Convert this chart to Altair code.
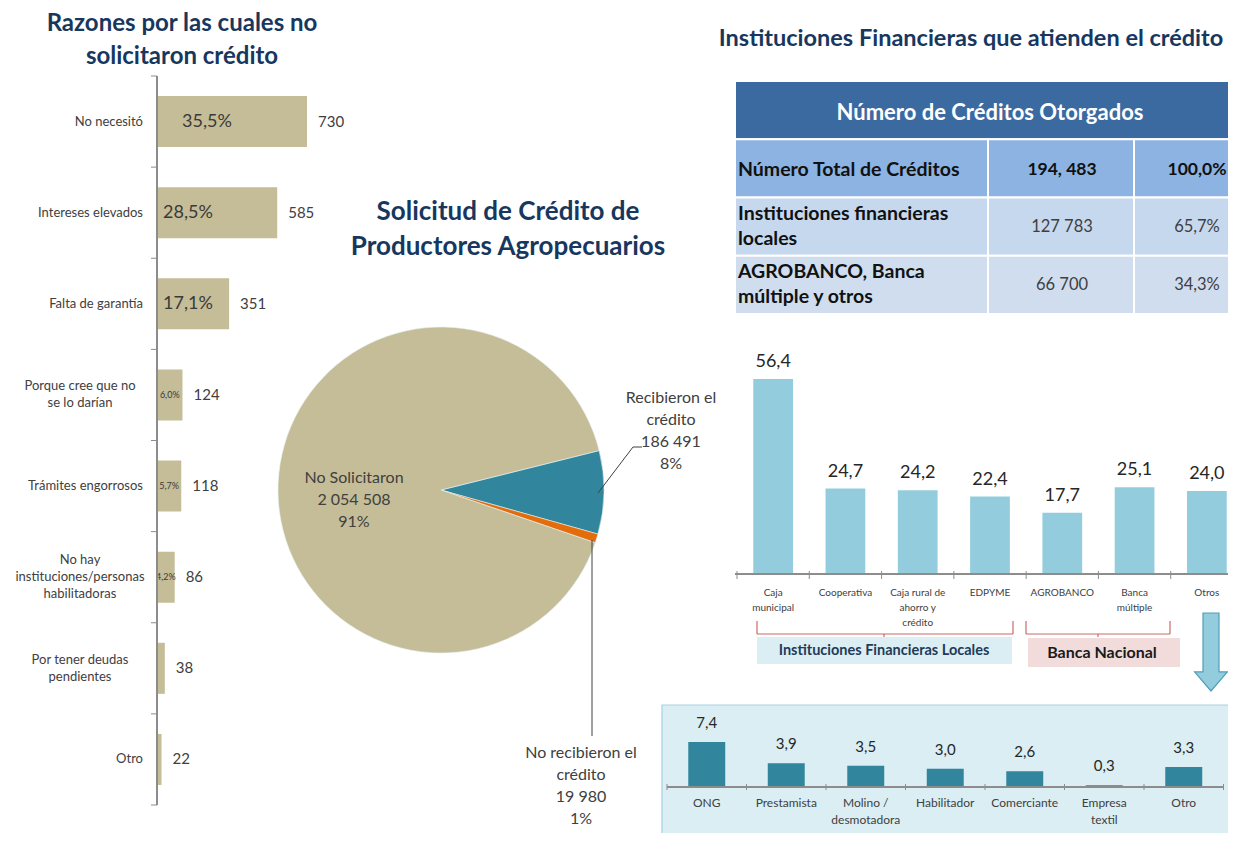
import math
import altair as alt
import pandas as pd

# ---------------- values ----------------
reason_names = [
    "No necesitó",
    "Intereses elevados",
    "Falta de garantía",
    "Porque cree que no\nse lo darían",
    "Trámites engorrosos",
    "No hay\ninstituciones/personas\nhabilitadoras",
    "Por tener deudas\npendientes",
    "Otro",
]
reason_counts = [730, 585, 351, 124, 118, 86, 38, 22]
reason_pct = ["35,5%", "28,5%", "17,1%", "6,0%", "5,7%", "4,2%", "", ""]

pie_names = ["Recibieron el\ncrédito", "No recibieron el\ncrédito", "No Solicitaron"]
pie_values = [186491, 19980, 2054508]
pie_pct = ["8%", "1%", "91%"]

table_head = "Número de Créditos Otorgados"
table_rows = ["Número Total de Créditos", "Instituciones financieras\nlocales", "AGROBANCO, Banca\nmúltiple y otros"]
table_counts = ["194, 483", "127 783", "66 700"]
table_pct = ["100,0%", "65,7%", "34,3%"]

inst_names = ["Caja\nmunicipal", "Cooperativa", "Caja rural de\nahorro y\ncrédito", "EDPYME",
              "AGROBANCO", "Banca\nmúltiple", "Otros"]
inst_values = [56.4, 24.7, 24.2, 22.4, 17.7, 25.1, 24.0]
inst_groups = ["Instituciones  Financieras Locales", "Banca  Nacional"]

other_names = ["ONG", "Prestamista", "Molino /\ndesmotadora", "Habilitador", "Comerciante",
               "Empresa\ntextil", "Otro"]
other_values = [7.4, 3.9, 3.5, 3.0, 2.6, 0.3, 3.3]

titles = ["Razones por las cuales no\nsolicitaron crédito",
          "Solicitud de Crédito de\nProductores  Agropecuarios",
          "Instituciones Financieras que atienden el crédito"]

# ---------------- layout / style ----------------
W, H = 1220, 825
OFF = 8
FONT = "Lato"
NAVY = "#17375E"
TXT = "#404040"


def px(v):
    return v - OFF


def fmt_thousands(v):
    return f"{v:,}".replace(",", " ")


def fmt_dec(v):
    return f"{v:.1f}".replace(".", ",")


def n_lines(s):
    return s.count("\n") + 1


CX = alt.Scale(domain=[OFF, OFF + W], range=[0, W], nice=False, zero=False)
CY = alt.Scale(domain=[OFF, OFF + H], range=[0, H], nice=False, zero=False)


def cx(f="x"):
    return alt.X(f"{f}:Q", scale=CX, axis=None)


def cy(f="y"):
    return alt.Y(f"{f}:Q", scale=CY, axis=None)


def texts(rows, **kw):
    df = pd.DataFrame(rows, columns=["x", "y", "t"])
    return alt.Chart(df).mark_text(font=FONT, lineBreak="\n", **kw).encode(
        x=cx(), y=cy(), text="t:N")


def segments(rows, **kw):
    df = pd.DataFrame(rows, columns=["x", "y", "x2", "y2"])
    return alt.Chart(df).mark_rule(**kw).encode(x=cx(), y=cy(), x2="x2:Q", y2="y2:Q")


def boxes(rows, **kw):
    df = pd.DataFrame(rows, columns=["x", "y", "x2", "y2"])
    return alt.Chart(df).mark_rect(**kw).encode(x=cx(), y=cy(), x2="x2:Q", y2="y2:Q")


layers = []

# background box of the lower right chart
layers.append(boxes([(662, 705, 1250, 850)], fill="#DAEEF3", stroke="#A5D4E3", strokeWidth=1.2))

# titles (y = first line)
layers.append(texts([(182, 24, titles[0])], fontSize=24, fontWeight="bold", color=NAVY,
                    lineHeight=33, align="center", baseline="middle"))
layers.append(texts([(508, 212, titles[1])], fontSize=26, fontWeight="bold", color=NAVY,
                    lineHeight=35, align="center", baseline="middle"))
layers.append(texts([(971, 39, titles[2])], fontSize=23.5, fontWeight="bold", color=NAVY,
                    align="center", baseline="middle"))

# ---------------- left: horizontal bars ----------------
left_df = pd.DataFrame({"reason": reason_names, "count": reason_counts, "pct": reason_pct})
LY = alt.Scale(type="band", domain=reason_names, range=[px(76), px(805)],
               paddingInner=0.44, paddingOuter=0.22)
LY0 = alt.Scale(type="band", domain=reason_names, range=[px(76), px(805)],
                paddingInner=0, paddingOuter=0)
LX = alt.Scale(type="linear", domain=[0, max(reason_counts)], range=[px(157), px(307)],
               nice=False, zero=True)
lbase = alt.Chart(left_df)
ly = alt.Y("reason:N", scale=LY, axis=None, sort=None)

layers.append(lbase.mark_bar(color="#C4BD97").encode(
    x=alt.X("count:Q", scale=LX, axis=None), y=ly))
layers.append(lbase.mark_text(font=FONT, align="left", dx=11, fontSize=15, color=TXT,
                              baseline="middle").encode(
    x=alt.X("count:Q", scale=LX, axis=None), y=ly, text="count:Q"))
big = "datum.pct != '' && datum.count >= 300"
layers.append(lbase.transform_filter(big + f" && datum.count == {max(reason_counts)}")
              .transform_calculate(base="0")
              .mark_text(font=FONT, align="left", dx=25, fontSize=18, color="#3A3A3A",
                         baseline="middle").encode(
    x=alt.X("base:Q", scale=LX, axis=None), y=ly, text="pct:N"))
layers.append(lbase.transform_filter(big + f" && datum.count < {max(reason_counts)}")
              .transform_calculate(base="0")
              .mark_text(font=FONT, align="left", dx=6, fontSize=18, color="#3A3A3A",
                         baseline="middle").encode(
    x=alt.X("base:Q", scale=LX, axis=None), y=ly, text="pct:N"))
layers.append(lbase.transform_filter("datum.pct != '' && datum.count < 300")
              .transform_calculate(mid="datum.count / 2")
              .mark_text(font=FONT, align="center", fontSize=9, color="#3A3A3A",
                         baseline="middle").encode(
    x=alt.X("mid:Q", scale=LX, axis=None), y=ly, text="pct:N"))
LAB_LH = 17
for n in sorted(set(n_lines(s) for s in reason_names)):
    group = [s for s in reason_names if n_lines(s) == n]
    if n == 1:
        mk = dict(align="right")
        xpos = px(143)
    else:
        mk = dict(align="center", lineBreak="\n", lineHeight=LAB_LH, dy=-(n - 1) * LAB_LH / 2)
        xpos = px(80)
    layers.append(lbase.transform_filter(alt.FieldOneOfPredicate(field="reason", oneOf=group))
                  .mark_text(font=FONT, fontSize=13, color=TXT, baseline="middle", **mk).encode(
        x=alt.value(xpos), y=ly, text="reason:N"))
# axis line + ticks between categories
layers.append(lbase.mark_rule(color="#8C8C8C").encode(
    x=alt.value(px(157)), y=alt.value(px(76)), y2=alt.value(px(805))))
layers.append(lbase.mark_rule(color="#8C8C8C").encode(
    y=alt.Y("reason:N", scale=LY0, axis=None, bandPosition=0),
    x=alt.value(px(151)), x2=alt.value(px(157))))
layers.append(lbase.transform_filter(alt.datum.reason == reason_names[-1]).mark_rule(color="#8C8C8C").encode(
    y=alt.Y("reason:N", scale=LY0, axis=None, bandPosition=1),
    x=alt.value(px(151)), x2=alt.value(px(157))))

# ---------------- middle: pie ----------------
pie_df = pd.DataFrame({"name": pie_names, "value": pie_values, "ord": list(range(len(pie_names)))})
start = math.radians(76)
layers.append(alt.Chart(pie_df).mark_arc(radius=163, stroke="#E6F3F7", strokeWidth=0.6).encode(
    theta=alt.Theta("value:Q", stack=True, scale=alt.Scale(range=[start, start + 2 * math.pi])),
    order=alt.Order("ord:Q"),
    color=alt.Color("name:N", scale=alt.Scale(domain=pie_names,
                                              range=["#31859C", "#E46C0A", "#C4BD97"]), legend=None),
    x=alt.value(px(441)), y=alt.value(px(490))))
pie_label_xy = [(671, 398), (581, 753), (354, 478)]  # first line of each label
pie_rows = [(x, y, f"{n}\n{fmt_thousands(v)}\n{p}")
            for (x, y), n, v, p in zip(pie_label_xy, pie_names, pie_values, pie_pct)]
layers.append(texts(pie_rows, fontSize=16, color=TXT, lineHeight=22, align="center", baseline="middle"))
layers.append(segments([(598, 493, 633, 447), (633, 447, 642, 447), (592, 540, 592, 736)],
                       color="#404040", strokeWidth=1))

# ---------------- right: table ----------------
keys = [table_head] + table_rows
TROW = alt.Scale(type="band", domain=keys, range=[px(81), px(314)], paddingInner=0, paddingOuter=0)
col_edges = [735, 988, 1134, 1260]
cells = [(table_head, col_edges[0], col_edges[-1])]
for r in table_rows:
    for c in range(3):
        cells.append((r, col_edges[c], col_edges[c + 1]))
cell_df = pd.DataFrame(cells, columns=["row", "x0", "x1"])
layers.append(alt.Chart(cell_df).mark_rect(stroke="white", strokeWidth=2).encode(
    x=cx("x0"), x2="x1:Q", y=alt.Y("row:N", scale=TROW, axis=None),
    color=alt.Color("row:N", scale=alt.Scale(domain=keys,
                                             range=["#3B6AA0", "#8DB3E2", "#C6D8EE", "#CFDDEF"]),
                    legend=None)))
tab_df = pd.DataFrame({"row": table_rows, "count": table_counts, "pct": table_pct})
head_df = pd.DataFrame({"row": [table_head]})
ty_row = alt.Y("row:N", scale=TROW, axis=None)
layers.append(alt.Chart(head_df).mark_text(font=FONT, fontSize=22, fontWeight="bold", color="white",
                                           align="center", baseline="middle", dy=2.5).encode(
    x=alt.value(px(990)), y=ty_row, text="row:N"))
ROW_LH = 25
for n in sorted(set(n_lines(s) for s in table_rows)):
    group = [s for s in table_rows if n_lines(s) == n]
    layers.append(alt.Chart(tab_df).transform_filter(alt.FieldOneOfPredicate(field="row", oneOf=group))
                  .mark_text(font=FONT, fontSize=19.5, fontWeight="bold", color="#111111",
                             align="left", baseline="middle", lineBreak="\n", lineHeight=ROW_LH,
                             dy=-(n - 1) * ROW_LH / 2 + (2 if n == 1 else 0)).encode(
        x=alt.value(px(738)), y=ty_row, text="row:N"))
first = alt.datum.row == table_rows[0]
for fld, xc in (("count", 1062), ("pct", 1197)):
    layers.append(alt.Chart(tab_df).transform_filter(first).mark_text(
        font=FONT, fontSize=17.5, fontWeight="bold", color="#111111", align="center",
        baseline="middle", dy=2).encode(x=alt.value(px(xc)), y=ty_row, text=f"{fld}:N"))
    layers.append(alt.Chart(tab_df).transform_filter(~first).mark_text(
        font=FONT, fontSize=16.5, color="#3F3F3F", align="center",
        baseline="middle").encode(x=alt.value(px(xc)), y=ty_row, text=f"{fld}:N"))

# ---------------- right: institutions bars ----------------
inst_df = pd.DataFrame({"name": inst_names, "value": inst_values,
                        "label": [fmt_dec(v) for v in inst_values]})
TX = alt.Scale(type="band", domain=inst_names, range=[px(737), px(1243)],
               paddingInner=0.45, paddingOuter=0.225)
TX0 = alt.Scale(type="band", domain=inst_names, range=[px(737), px(1243)],
                paddingInner=0, paddingOuter=0)
TY = alt.Scale(type="linear", domain=[0, max(inst_values)], range=[px(574), px(379)],
               nice=False, zero=True)
ib = alt.Chart(inst_df)
tx = alt.X("name:N", scale=TX, axis=None, sort=None)
layers.append(ib.mark_bar(color="#93CDDD").encode(
    x=tx, y=alt.Y("value:Q", scale=TY, axis=None)))
layers.append(ib.mark_text(font=FONT, dy=-17, fontSize=18, color="#262626", baseline="middle").encode(
    x=tx, y=alt.Y("value:Q", scale=TY, axis=None), text="label:N"))
layers.append(ib.mark_rule(color="#8C8C8C").encode(
    x=alt.value(px(735)), x2=alt.value(px(1245)), y=alt.value(px(574))))
layers.append(ib.mark_rule(color="#8C8C8C").encode(
    x=alt.X("name:N", scale=TX0, axis=None, bandPosition=0),
    y=alt.value(px(571)), y2=alt.value(px(579))))
layers.append(ib.transform_filter(alt.datum.name == inst_names[-1]).mark_rule(color="#8C8C8C").encode(
    x=alt.X("name:N", scale=TX0, axis=None, bandPosition=1),
    y=alt.value(px(571)), y2=alt.value(px(579))))
layers.append(ib.mark_text(font=FONT, fontSize=10, color=TXT, baseline="top", lineBreak="\n",
                           lineHeight=15).encode(
    x=tx, y=alt.value(px(587.5)), text="name:N"))

# group brackets and labels
BR = "#C0504D"
layers.append(segments([
    (757, 621, 757, 634), (757, 634, 1013, 634), (1013, 621, 1013, 634), (884, 634, 884, 637),
    (1026, 621, 1026, 634), (1026, 634, 1170, 634), (1170, 621, 1170, 634), (1098, 634, 1098, 637),
], color=BR, strokeWidth=1.2, opacity=0.85))
layers.append(boxes([(757, 637, 1012, 664)], fill="#DBEEF4"))
layers.append(boxes([(1028, 638, 1180, 667)], fill="#F2DCDB"))
layers.append(texts([(884, 650.5, inst_groups[0])], fontSize=14.5, fontWeight="bold", color="#1F3B57",
                    align="center", baseline="middle"))
layers.append(texts([(1102, 653, inst_groups[1])], fontSize=16, fontWeight="bold", color="#1A1A1A",
                    align="center", baseline="middle"))

# down arrow
ARROW = "M-0.205,-1 L0.205,-1 L0.205,0.51 L0.42,0.51 L0,1 L-0.42,0.51 L-0.205,0.51 Z"
layers.append(alt.Chart(pd.DataFrame({"a": [0]})).mark_point(
    shape=ARROW, filled=True, fill="#93CDDD", stroke="#4F9DB8", strokeWidth=1.2,
    size=78 * 78, opacity=1).encode(x=alt.value(px(1211)), y=alt.value(px(652))))

# ---------------- lower right: other lenders ----------------
oth_df = pd.DataFrame({"name": other_names, "value": other_values,
                       "label": [fmt_dec(v) for v in other_values]})
BX = alt.Scale(type="band", domain=other_names, range=[px(667), px(1223.5)],
               paddingInner=0.535, paddingOuter=0.2675)
BX0 = alt.Scale(type="band", domain=other_names, range=[px(667), px(1223.5)],
                paddingInner=0, paddingOuter=0)
BY = alt.Scale(type="linear", domain=[0, max(other_values)], range=[px(787), px(742)],
               nice=False, zero=True)
ob = alt.Chart(oth_df)
bx = alt.X("name:N", scale=BX, axis=None, sort=None)
layers.append(ob.mark_bar(color="#31859C").encode(
    x=bx, y=alt.Y("value:Q", scale=BY, axis=None)))
layers.append(ob.mark_text(font=FONT, dy=-19, fontSize=15, color="#262626", baseline="middle").encode(
    x=bx, y=alt.Y("value:Q", scale=BY, axis=None), text="label:N"))
layers.append(ob.mark_rule(color="#8C8C8C").encode(
    x=alt.value(px(667)), x2=alt.value(px(1224)), y=alt.value(px(787))))
layers.append(ob.mark_rule(color="#8C8C8C").encode(
    x=alt.X("name:N", scale=BX0, axis=None, bandPosition=0),
    y=alt.value(px(784)), y2=alt.value(px(790))))
layers.append(ob.transform_filter(alt.datum.name == other_names[-1]).mark_rule(color="#8C8C8C").encode(
    x=alt.X("name:N", scale=BX0, axis=None, bandPosition=1),
    y=alt.value(px(784)), y2=alt.value(px(790))))
layers.append(ob.mark_text(font=FONT, fontSize=12, color=TXT, baseline="top", lineBreak="\n",
                           lineHeight=17).encode(
    x=bx, y=alt.value(px(797.5)), text="name:N"))

chart = alt.layer(*layers).properties(
    width=W, height=H, padding=0, background="white",
    autosize=alt.AutoSizeParams(type="none"),
).resolve_scale(
    x="independent", y="independent", color="independent", theta="independent"
).configure_view(stroke="transparent").configure_text(font=FONT)

chart.save("out.html", embed_options={"renderer": "svg", "actions": False})
